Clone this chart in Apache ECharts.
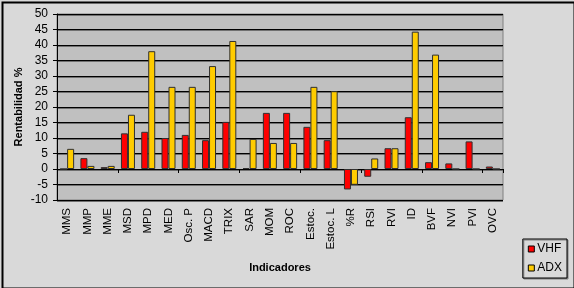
<!DOCTYPE html>
<html><head><meta charset="utf-8">
<script src="https://cdn.jsdelivr.net/npm/echarts@6/dist/echarts.min.js"></script>
<style>html,body{margin:0;padding:0;background:#d9d9d9}#c{width:574px;height:288px}</style>
</head><body><div id="c"></div>
<script>
var categories = ["MMS","MMP","MME","MSD","MPD","MED","Osc. P","MACD","TRIX","SAR","MOM","ROC","Estoc.","Estoc. L","%R","RSI","RVI","ID","BVF","NVI","PVI","OVC"];
var vhf = [0, 3.5, 0.6, 11.5, 12, 10, 11, 9.3, 15.2, 0.3, 18.1, 18.1, 13.6, 9.3, -6.6, -2.5, 6.7, 16.7, 2.2, 1.8, 8.9, 0.8];
var adx = [6.5, 1, 1, 17.5, 38, 26.5, 26.5, 33.2, 41.3, 9.7, 8.4, 8.4, 26.5, 25.1, -5.1, 3.4, 6.7, 44.3, 36.9, 0, 0, 0];
var yMin = -10, yMax = 50, yStep = 5;

var chart = echarts.init(document.getElementById('c'), null, {renderer:'canvas'});
var font = 'Liberation Sans, Arial, sans-serif';
chart.setOption({
  animation:false,
  backgroundColor:'#d9d9d9',
  graphic:[{type:'rect', left:0, top:0, shape:{x:1, y:1, width:572, height:286}, style:{fill:null, stroke:'#000', lineWidth:2}, silent:true, z:100}],
  grid:{left:57, top:14, right:71, bottom:88, show:true, backgroundColor:'#c0c0c0', borderColor:'#808080', borderWidth:1},
  legend:{
    right:7, bottom:10, orient:'vertical', itemWidth:6, itemHeight:6, itemGap:7,
    padding:[4,5,4,5],
    backgroundColor:'#d9d9d9', borderColor:'#000', borderWidth:1,
    shadowColor:'#808080', shadowOffsetX:1, shadowOffsetY:1,
    icon:'rect',
    textStyle:{fontFamily:font, fontSize:12, color:'#000', padding:[0,0,0,-2]},
    data:[{name:'VHF', itemStyle:{borderColor:'#000', borderWidth:1}},{name:'ADX', itemStyle:{borderColor:'#000', borderWidth:1}}]
  },
  xAxis:[{
    type:'category', data:categories, axisLine:{onZero:true, lineStyle:{color:'#000', width:1}},
    axisTick:{show:true, length:4, lineStyle:{color:'#000'}}, axisLabel:{show:false}, splitLine:{show:false}
  },{
    type:'category', data:categories, position:'bottom',
    axisLine:{show:false, onZero:false}, axisTick:{show:false},
    axisLabel:{rotate:90, fontFamily:font, fontSize:11.5, color:'#000', margin:8, interval:0},
    name:'Indicadores', nameLocation:'middle', nameGap:62,
    nameTextStyle:{fontFamily:font, fontSize:11, fontWeight:'bold', color:'#000'}
  }],
  yAxis:{
    type:'value', min:yMin, max:yMax, interval:yStep,
    axisLine:{show:true, lineStyle:{color:'#000'}},
    axisTick:{show:true, length:4, lineStyle:{color:'#000'}},
    axisLabel:{fontFamily:font, fontSize:12, color:'#000', margin:9},
    splitLine:{show:true, lineStyle:{color:'#000', width:1, shadowColor:'#707070', shadowOffsetY:1, shadowBlur:0}},
    name:'Rentabilidad %', nameLocation:'middle', nameGap:33, nameMoveOverlap:false,
    nameTextStyle:{fontFamily:font, fontSize:11, fontWeight:'bold', color:'#000'}
  },
  series:[
    {name:'VHF', type:'bar', data:vhf, barWidth:7, barGap:'0%', xAxisIndex:0,
     itemStyle:{color:'#ff0000', borderColor:'#303030', borderWidth:1}},
    {name:'ADX', type:'bar', data:adx, barWidth:7, barGap:'0%', xAxisIndex:0,
     itemStyle:{color:'#ffcc00', borderColor:'#303030', borderWidth:1}}
  ]
});
</script></body></html>
